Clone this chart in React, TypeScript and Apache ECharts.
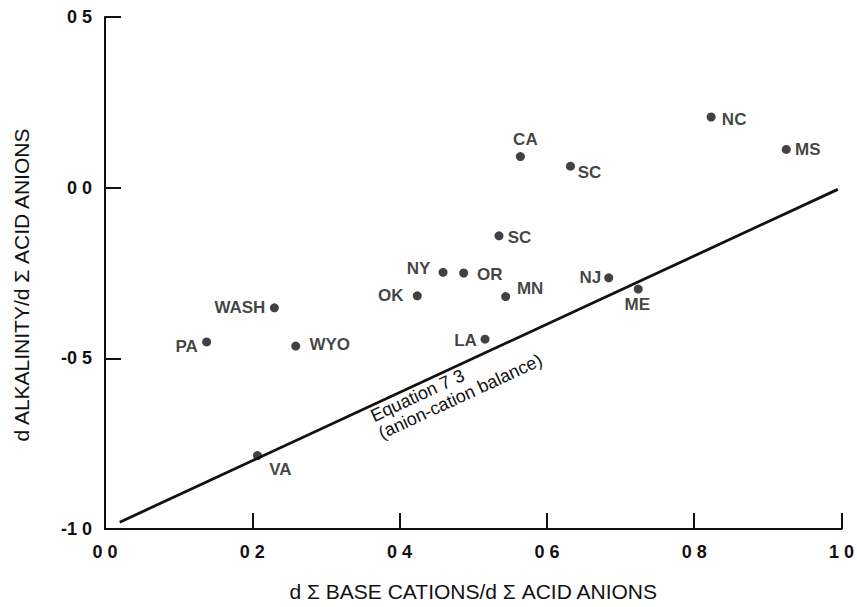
import React, { useEffect, useRef } from "react";
import * as echarts from "echarts";

// ---- data ----
const states = ["PA", "WASH", "WYO", "VA", "OK", "LA", "MN", "NY", "OR", "SC", "CA", "SC", "NJ", "ME", "NC", "MS"];
const xValues = [0.138, 0.23, 0.259, 0.207, 0.424, 0.516, 0.544, 0.459, 0.487, 0.535, 0.564, 0.632, 0.684, 0.724, 0.823, 0.925];
const yValues = [-0.452, -0.352, -0.464, -0.785, -0.317, -0.444, -0.319, -0.248, -0.25, -0.141, 0.091, 0.063, -0.264, -0.297, 0.207, 0.112];
// anion-cation balance line (Equation 7.3)
const balanceX = [0.02, 0.995];
const balanceY = [-0.98, -0.005];

const xTitle = "d Σ BASE CATIONS/d Σ ACID ANIONS";
const yTitle = "d ALKALINITY/d Σ ACID ANIONS";
const eqLine1 = "Equation 7 3";
const eqLine2 = "(anion-cation balance)";

// ---- label placement (styles, in px relative to the dot) ----
const labelOffsets = [
  [-20, 4.5], [-34.5, 0], [34, -1.5], [23, 14], [-26.5, 0], [-19.5, 1.5], [24.5, -8.5], [-24.5, -4],
  [26, 1], [20.5, 2], [5, -17], [19, 6], [-18.5, 0], [-1, 15], [23, 2.5], [21.5, 0.5],
];

const FONT = '"Liberation Sans", Arial, Helvetica, sans-serif';
const INK = "#111";
const fmt = (v: number) => v.toFixed(1).replace(".", " ");

export default function App() {
  const ref = useRef<HTMLDivElement>(null);
  useEffect(() => {
    if (!ref.current) return;
    const chart = echarts.init(ref.current, undefined, { renderer: "svg" });
    const axisCommon = {
      type: "value" as const,
      axisLine: { show: true, onZero: false, lineStyle: { color: INK, width: 2 } },
      axisTick: { show: true, inside: true, length: 16, lineStyle: { color: INK, width: 2 } },
      splitLine: { show: false },
    };
    chart.setOption({
      animation: false,
      backgroundColor: "#fff",
      grid: { left: 105, top: 17, width: 739, height: 512, containLabel: false },
      xAxis: {
        ...axisCommon,
        min: 0,
        max: 1,
        interval: 0.2,
        name: xTitle,
        nameLocation: "middle",
        nameGap: 52,
        nameTextStyle: { fontFamily: FONT, fontSize: 21, color: INK },
        axisLabel: { formatter: fmt, fontFamily: FONT, fontSize: 18, fontWeight: "bold", color: INK, margin: 14 },
      },
      yAxis: {
        ...axisCommon,
        min: -1,
        max: 0.5,
        interval: 0.5,
        axisLabel: { formatter: fmt, fontFamily: FONT, fontSize: 18, fontWeight: "bold", color: INK, margin: 13 },
      },
      series: [
        {
          type: "line",
          data: balanceX.map((x, i) => [x, balanceY[i]]),
          symbol: "none",
          silent: true,
          lineStyle: { color: INK, width: 2.8 },
          z: 2,
        },
        {
          type: "scatter",
          symbol: "circle",
          symbolSize: 9,
          itemStyle: { color: INK },
          z: 3,
          label: {
            show: true,
            position: "inside",
            formatter: "{b}",
            color: INK,
            fontFamily: FONT,
            fontSize: 17,
            fontWeight: "bold",
            align: "center",
            verticalAlign: "middle",
          },
          data: states.map((s, i) => ({
            name: s,
            value: [xValues[i], yValues[i]],
            label: { offset: labelOffsets[i] },
          })),
        },
      ],
    });

    const p0 = chart.convertToPixel({ gridIndex: 0 }, [balanceX[0], balanceY[0]]) as number[];
    const p1 = chart.convertToPixel({ gridIndex: 0 }, [balanceX[1], balanceY[1]]) as number[];
    const ang = Math.atan2(p0[1] - p1[1], p1[0] - p0[0]);
    const a = chart.convertToPixel({ gridIndex: 0 }, [0.362, -0.671]) as number[];
    const gap = 19;
    const b = [a[0] + gap * Math.sin(ang), a[1] + gap * Math.cos(ang)];
    const eqStyle = { fill: INK, fontFamily: FONT, fontSize: 18, align: "left", verticalAlign: "middle" };

    chart.setOption({
      graphic: [
        {
          type: "text",
          x: 21,
          y: 285,
          rotation: Math.PI / 2,
          style: { text: yTitle, fill: INK, fontFamily: FONT, fontSize: 21, align: "center", verticalAlign: "middle" },
        },
        { type: "text", x: a[0], y: a[1], rotation: ang, style: { ...eqStyle, text: eqLine1 } },
        { type: "text", x: b[0], y: b[1], rotation: ang, style: { ...eqStyle, text: eqLine2 } },
      ],
    });

    return () => chart.dispose();
  }, []);
  return <div ref={ref} style={{ position: "fixed", left: 0, top: 0, width: 857, height: 607, background: "#fff" }} />;
}
